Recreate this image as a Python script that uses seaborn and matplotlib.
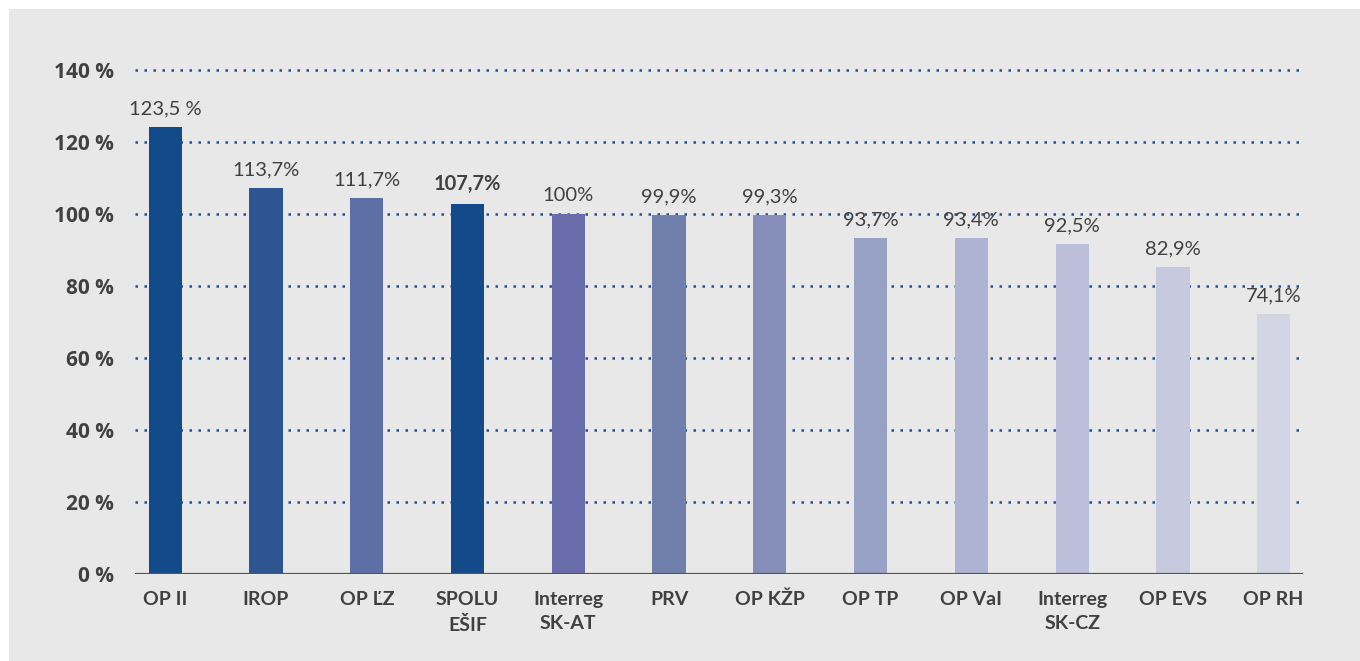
import matplotlib.pyplot as plt
import matplotlib.patches as mpatches
import pandas as pd
import seaborn as sns

# data
programs = ['OP II', 'IROP', 'OP ĽZ', 'SPOLU\nEŠIF', 'Interreg\nSK-AT', 'PRV',
            'OP KŽP', 'OP TP', 'OP VaI', 'Interreg\nSK-CZ', 'OP EVS', 'OP RH']
bar_height = [124.2, 107.2, 104.4, 102.8, 100.0, 99.7, 99.7, 93.3, 93.3, 91.7, 85.3, 72.2]
value_text = ['123,5 %', '113,7%', '111,7%', '107,7%', '100%', '99,9%', '99,3%',
              '93,7%', '93,4%', '92,5%', '82,9%', '74,1%']
y_ticks = [0, 20, 40, 60, 80, 100, 120, 140]

colors = ['#134a8a', '#2e5592', '#5e6fa5', '#134a8a', '#6a6dab', '#717fad',
          '#858eb8', '#97a0c5', '#adb3d1', '#bbbfd9', '#c7cadf', '#d3d5e4']

df = pd.DataFrame({'program': programs, 'value': bar_height})

sns.set_theme(style="white")
text_col = '#404040'

fig = plt.figure(figsize=(13.6, 6.61), dpi=100)
fig.patch.set_facecolor('white')
# grey panel with a thin white margin at top/left
fig.patches.append(mpatches.Rectangle((9 / 1360, 0), 1, 1 - 9 / 661, transform=fig.transFigure,
                                      facecolor='#e8e8e8', edgecolor='none', zorder=-10))

ax = fig.add_axes([0.0993, 0.1316, 0.8587, 0.7624])
ax.set_facecolor('none')

sns.barplot(data=df, x='program', y='value', hue='program', palette=colors,
            width=0.33, dodge=False, legend=False, saturation=1, ax=ax, zorder=3,
            linewidth=0)

ax.set_xlim(-0.3, 11.29)
ax.set_ylim(0, 140)
ax.set_yticks(y_ticks)
ax.set_yticklabels([f'{t} %' for t in y_ticks], fontsize=15, fontweight='bold',
                   color=text_col, family=['Open Sans', 'DejaVu Sans'])
ax.set_xticks(range(len(programs)))
ax.set_xticklabels(programs, fontsize=14, fontweight='bold', color=text_col,
                   family=['Lato', 'DejaVu Sans'], linespacing=1.55, va='top')
ax.tick_params(axis='both', length=0)
ax.tick_params(axis='y', pad=15)
ax.tick_params(axis='x', pad=12)
ax.set_xlabel('')
ax.set_ylabel('')

for s in ['top', 'right', 'left', 'bottom']:
    ax.spines[s].set_visible(False)

# dotted gridlines
for t in y_ticks[1:]:
    ax.axhline(t, color='#1f4e9a', lw=1.8, linestyle=(0, (1, 2.6)), zorder=2, clip_on=False)
ax.axhline(0, color='#555555', lw=1.6, zorder=4)

for i, (h, lab) in enumerate(zip(bar_height, value_text)):
    ax.annotate(lab, (i, h), xytext=(0, 7), textcoords='offset points',
                ha='center', va='bottom', fontsize=14.5, color=text_col,
                fontweight='bold' if i == 3 else 'normal',
                family=['Lato', 'DejaVu Sans'])

plt.savefig('out.png', dpi=100)
plt.close()
